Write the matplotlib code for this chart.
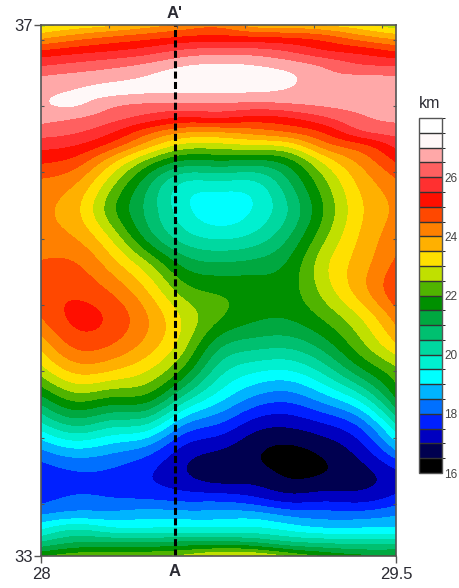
import numpy as np
import matplotlib
matplotlib.use("Agg")
import matplotlib.pyplot as plt
from matplotlib.colors import ListedColormap, BoundaryNorm

plt.rcParams["font.family"] = ["Liberation Sans", "DejaVu Sans"]

lon = [28.0, 28.15, 28.3, 28.45, 28.6, 28.75, 28.9, 29.05, 29.2, 29.35, 29.5]
lat = [37.0, 36.9, 36.8, 36.7, 36.6, 36.5, 36.4, 36.3, 36.2, 36.1, 36.0, 35.8, 35.6, 35.4,
       35.2, 35.0, 34.8, 34.6, 34.4, 34.2, 34.0, 33.8, 33.6, 33.4, 33.3, 33.2, 33.1, 33.0]

# depth in km, one list per longitude, north to south
km_2800 = [22.8, 23.9, 25.05, 25.9, 26.55, 26.85, 26.92, 26.65, 26.25, 25.7, 25.2, 24.35, 24.1, 24.2,
           24.55, 24.8, 24.5, 23.7, 22.75, 21.4, 19.9, 18.45, 17.65, 17.95, 18.55, 19.45, 20.55, 21.9]
km_2815 = [23.1, 24.3, 25.3, 26.1, 26.7, 27.03, 27.02, 26.5, 26.05, 25.5, 24.9, 23.95, 23.6, 23.95,
           24.5, 24.87, 25.1, 24.65, 23.65, 22.25, 20.65, 18.9, 17.9, 18.2, 18.8, 19.95, 21.0, 22.3]
km_2830 = [23.35, 24.6, 25.5, 26.3, 26.85, 27.1, 26.6, 26.15, 25.55, 24.8, 23.85, 22.6, 22.15, 22.85,
           23.7, 24.4, 24.85, 24.5, 23.5, 22.0, 20.25, 18.65, 17.85, 18.15, 18.75, 19.65, 21.0, 22.4]
km_2845 = [23.7, 24.85, 25.75, 26.55, 27.05, 27.05, 26.4, 25.75, 24.7, 23.75, 22.6, 21.1, 20.85, 21.3,
           22.55, 23.45, 24.0, 23.8, 23.0, 21.8, 20.0, 18.25, 17.55, 18.15, 18.85, 19.6, 21.0, 22.4]
km_2860 = [24.1, 25.1, 26.1, 26.9, 27.3, 27.05, 26.35, 25.4, 24.1, 22.9, 21.7, 19.9, 19.7, 20.25,
           21.35, 22.25, 22.9, 22.7, 21.85, 20.4, 18.6, 17.35, 17.1, 18.05, 18.8, 19.65, 21.1, 22.6]
km_2875 = [24.3, 25.2, 26.25, 27.03, 27.4, 27.03, 26.4, 25.45, 24.05, 22.85, 21.7, 19.8, 19.2, 19.9,
           21.05, 21.9, 22.05, 21.2, 20.25, 19.25, 18.0, 17.0, 16.75, 18.05, 18.8, 19.65, 21.15, 23.05]
km_2890 = [23.7, 25.1, 26.2, 26.95, 27.3, 27.02, 26.3, 25.3, 24.25, 23.0, 21.65, 19.85, 19.55, 20.15,
           21.15, 21.75, 21.6, 20.75, 19.6, 18.45, 17.3, 16.6, 16.75, 17.85, 18.8, 19.65, 21.0, 23.0]
km_2905 = [23.6, 25.0, 25.95, 26.7, 27.08, 26.9, 26.4, 25.45, 24.55, 23.25, 22.05, 20.9, 20.55, 21.0,
           21.6, 21.8, 21.55, 20.7, 19.5, 18.25, 17.15, 16.4, 16.45, 17.5, 18.45, 19.35, 20.6, 22.4]
km_2920 = [23.4, 24.75, 25.55, 26.35, 26.65, 26.7, 26.55, 25.9, 25.1, 24.3, 23.35, 22.35, 22.05, 22.4,
           22.85, 22.7, 22.1, 21.3, 20.2, 18.85, 17.5, 16.65, 16.55, 17.55, 18.3, 19.1, 20.4, 21.9]
km_2935 = [23.1, 24.25, 25.3, 26.0, 26.6, 26.75, 26.65, 26.4, 25.9, 24.9, 24.25, 23.6, 23.4, 23.55,
           23.75, 23.75, 23.0, 22.35, 21.35, 19.8, 18.2, 17.25, 16.8, 17.5, 18.3, 19.1, 20.3, 21.6]
km_2950 = [22.6, 23.85, 24.95, 25.9, 26.55, 26.75, 26.75, 26.6, 26.2, 25.65, 25.15, 24.35, 24.1, 24.3,
           24.6, 24.85, 24.2, 23.45, 22.35, 21.55, 20.0, 18.5, 17.3, 17.85, 18.5, 19.15, 20.3, 21.6]

band_colors = ["#000000", "#000050", "#0000c0", "#0020ff", "#0070ff", "#00b4ff", "#00ffff",
               "#00f0d0", "#00d8a0", "#00c070", "#00a840", "#009000", "#50b400", "#c0e000",
               "#ffe000", "#ffb000", "#ff8000", "#ff4800", "#ff0f00", "#ff3030", "#ff6060",
               "#ffa8a8", "#fff8f8", "#ffffff"]
levels = np.arange(16, 28.5, 0.5)
cbar_ticks = [16, 18, 20, 22, 24, 26]

section_lon = 28.566
text_color = "#2b2b33"


def spline_rows(x, grid, x_new):
    """Natural cubic spline through each row of grid, so the contours come out smooth."""
    x = np.asarray(x, float)
    h = np.diff(x)
    A = np.zeros((len(x), len(x)))
    A[0, 0] = A[-1, -1] = 1
    for i in range(1, len(x) - 1):
        A[i, i - 1:i + 2] = h[i - 1], 2 * (h[i - 1] + h[i]), h[i]
    d = np.diff(grid, axis=1) / h
    b = np.zeros_like(grid)
    b[:, 1:-1] = 6 * np.diff(d, axis=1)
    m = np.linalg.solve(A, b.T).T
    i = np.clip(np.searchsorted(x, x_new) - 1, 0, len(h) - 1)
    t0, t1 = x[i + 1] - x_new, x_new - x[i]
    return (m[:, i] * t0**3 + m[:, i + 1] * t1**3) / (6 * h[i]) \
        + (grid[:, i] / h[i] - m[:, i] * h[i] / 6) * t0 \
        + (grid[:, i + 1] / h[i] - m[:, i + 1] * h[i] / 6) * t1


km = np.array([km_2800, km_2815, km_2830, km_2845, km_2860, km_2875,
               km_2890, km_2905, km_2920, km_2935, km_2950]).T
lon_fine = np.linspace(lon[0], lon[-1], 401)
lat_fine = np.linspace(33, 37, 601)
km_fine = spline_rows(lon, km, lon_fine)
km_fine = spline_rows(np.array(lat)[::-1], km_fine[::-1].T, lat_fine).T

cmap = ListedColormap(band_colors)
norm = BoundaryNorm(levels, cmap.N)

W, H = 459, 588
fig = plt.figure(figsize=(W / 100, H / 100), dpi=100)
ax = fig.add_axes([41 / W, 1 - 556 / H, 355 / W, 531 / H])
cs = ax.contourf(lon_fine, lat_fine, np.clip(km_fine, 16.01, 27.99), levels=levels, cmap=cmap, norm=norm)
ax.plot([section_lon, section_lon], [33, 37], color="black", lw=2.2, ls=(0, (2.3, 1.1)))

ax.set_xlim(28, 29.5)
ax.set_ylim(33, 37)
ax.set_xticks([28, 29.5], ["28", "29.5"], fontsize=12, color=text_color)
ax.set_yticks([33, 37], ["33", "37"], fontsize=12, color=text_color)
ax.tick_params(length=5, width=1, color="#555555", pad=1)
ax.tick_params(axis="x", pad=3)

# small inward ticks the map software puts round the frame
ax.set_xticks(np.arange(28.288, 29.5, 0.288), minor=True)
ax.set_yticks(np.arange(33.39, 37, 0.5), minor=True)
ax.tick_params(which="minor", direction="in", length=2, width=0.8, color="#555555",
               top=True, right=True, bottom=False)
for s in ax.spines.values():
    s.set_color("#555555")
    s.set_linewidth(1.2)

ax.text(section_lon, 37.03, "A'", ha="center", va="bottom", fontsize=12, color=text_color,
        fontweight="bold")
ax.text(section_lon, 32.94, "A", ha="center", va="top", fontsize=12, color=text_color,
        fontweight="bold")

cax = fig.add_axes([419 / W, 1 - 473 / H, 23 / W, 355 / H])
cbar = fig.colorbar(cs, cax=cax, ticks=cbar_ticks, drawedges=True, spacing="uniform")
cbar.dividers.set_color("#333333")
cbar.dividers.set_linewidth(1.0)
cbar.outline.set_edgecolor("#555555")
cbar.outline.set_linewidth(1.0)
cbar.ax.tick_params(length=0, labelsize=8.5, labelcolor="#444444", pad=1.5)
fig.text(430 / W, 1 - 103 / H, "km", ha="center", va="center", fontsize=11.5, color=text_color)

fig.savefig("out.png", dpi=100)
